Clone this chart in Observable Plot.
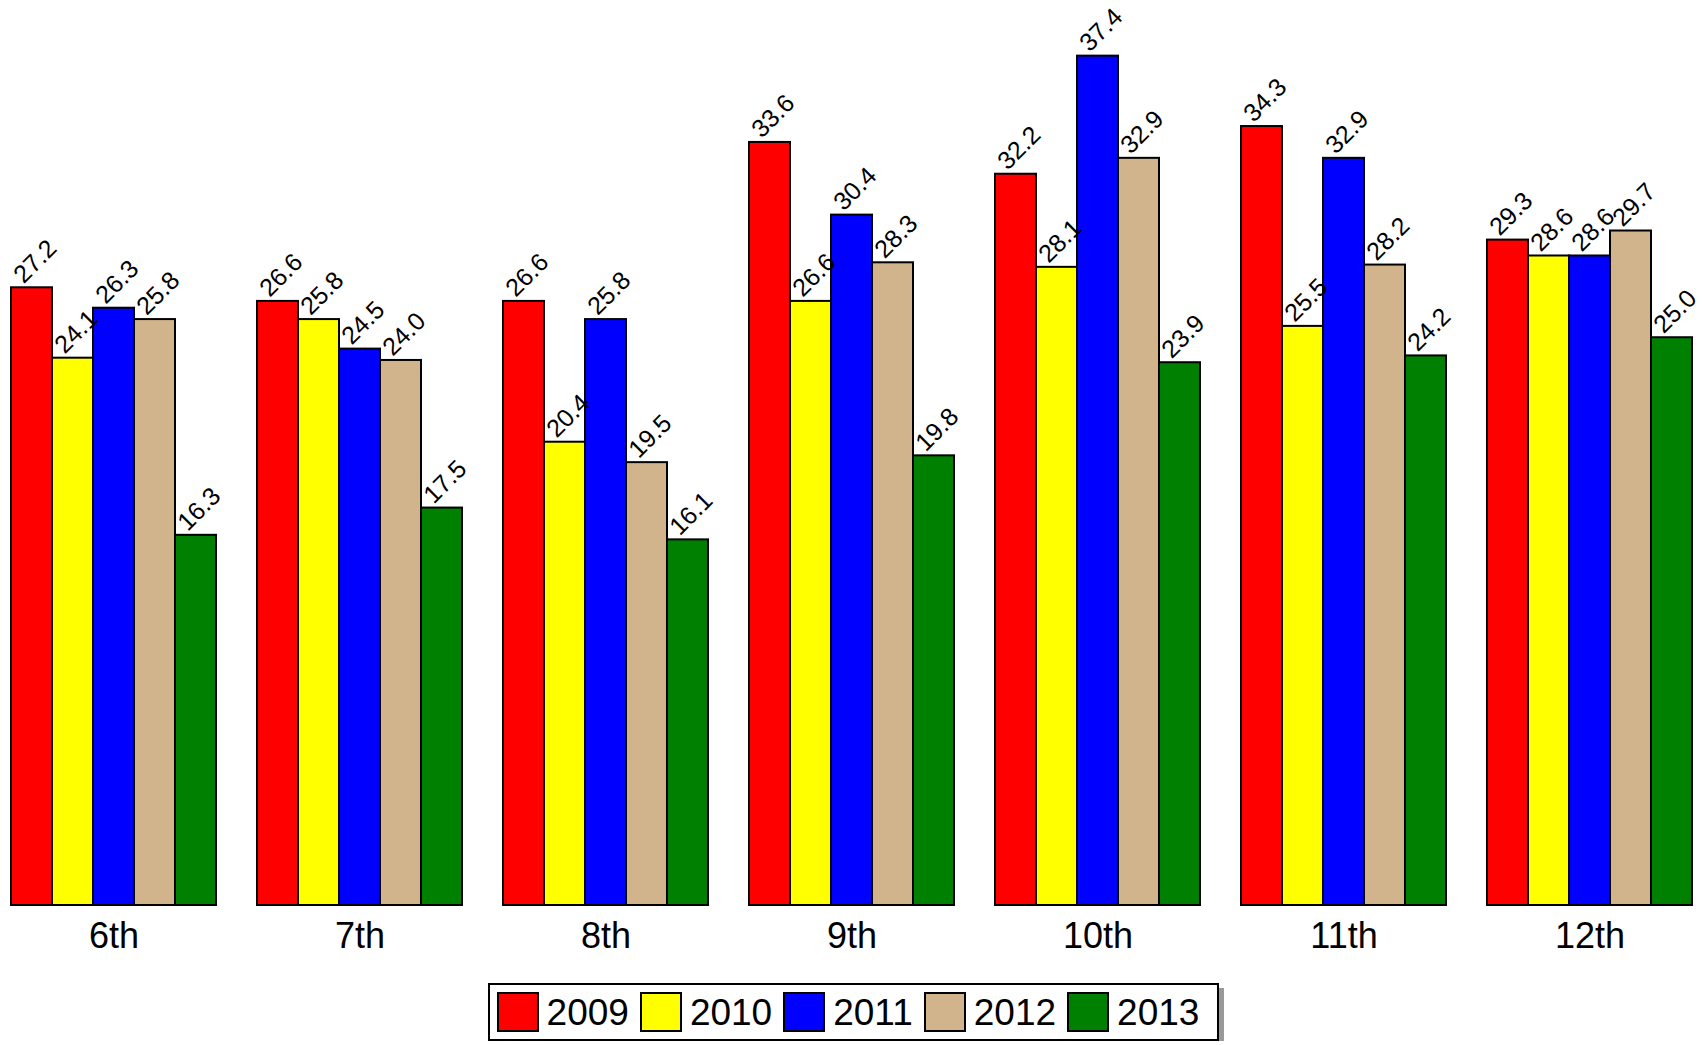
<!DOCTYPE html>
<html>
<head>
<meta charset="utf-8">
<script src="https://cdn.jsdelivr.net/npm/d3@7"></script>
<script src="https://cdn.jsdelivr.net/npm/@observablehq/plot@0.6"></script>
<style>
  body { margin: 0; background: white; font-family: "Liberation Sans", Arial, sans-serif; }
  #chart svg { display: block; }
  #legendWrap { text-align: center; margin-top: 13px; padding-left: 4px; }
  #legend { display: inline-flex; align-items: center; border: 2px solid black; box-shadow: 5px 5px 0 #999; background: white; height: 54px; padding: 0 18px 0 7px; }
  .item { display: flex; align-items: center; margin-right: 11px; }
  .item:last-child { margin-right: 0; }
  .sw { width: 38px; height: 36px; border: 2px solid black; margin-right: 8px; }
  .lab { font-size: 37px; line-height: 1; color: black; }
</style>
</head>
<body>
<div id="chart"></div>
<div id="legendWrap"><div id="legend"></div></div>
<script>
const grades = ["6th", "7th", "8th", "9th", "10th", "11th", "12th"];
const years = ["2009", "2010", "2011", "2012", "2013"];
const colors = ["#ff0000", "#ffff00", "#0000ff", "#d2b48c", "#008000"];
const v2009 = [27.2, 26.6, 26.6, 33.6, 32.2, 34.3, 29.3];
const v2010 = [24.1, 25.8, 20.4, 26.6, 28.1, 25.5, 28.6];
const v2011 = [26.3, 24.5, 25.8, 30.4, 37.4, 32.9, 28.6];
const v2012 = [25.8, 24.0, 19.5, 28.3, 32.9, 28.2, 29.7];
const v2013 = [16.3, 17.5, 16.1, 19.8, 23.9, 24.2, 25.0];
const series = [v2009, v2010, v2011, v2012, v2013];

const data = [];
grades.forEach((g, i) => {
  years.forEach((y, j) => {
    data.push({grade: g, year: y, value: series[j][i]});
  });
});

const chart = Plot.plot({
  width: 1703,
  height: 970,
  marginTop: 0,
  marginBottom: 65,
  marginLeft: 9,
  marginRight: 9,
  style: {fontFamily: "'Liberation Sans', Arial, sans-serif", background: "white", color: "black", overflow: "visible"},
  fx: {domain: grades, paddingInner: 0.16, paddingOuter: 0, label: null, axis: null},
  x: {domain: years, padding: 0, axis: null},
  y: {domain: [0, 39.85], axis: null},
  color: {domain: years, range: colors},
  marks: [
    Plot.barY(data, {fx: "grade", x: "year", y: "value", fill: "year", stroke: "black", strokeWidth: 2}),
    Plot.text(data, {fx: "grade", x: "year", y: "value", text: d => d.value.toFixed(1), rotate: -45, textAnchor: "start", dx: -14, dy: -9, fontSize: 25, fill: "black"}),
    Plot.axisFx({anchor: "bottom", tickSize: 0, tickPadding: 17, fontSize: 36, label: null, fill: "black"})
  ]
});
document.getElementById("chart").appendChild(chart);

const legend = document.getElementById("legend");
years.forEach((y, j) => {
  const it = document.createElement("div");
  it.className = "item";
  const sw = document.createElement("div");
  sw.className = "sw";
  sw.style.background = colors[j];
  const lab = document.createElement("span");
  lab.className = "lab";
  lab.textContent = y;
  it.appendChild(sw);
  it.appendChild(lab);
  legend.appendChild(it);
});
</script>
</body>
</html>
